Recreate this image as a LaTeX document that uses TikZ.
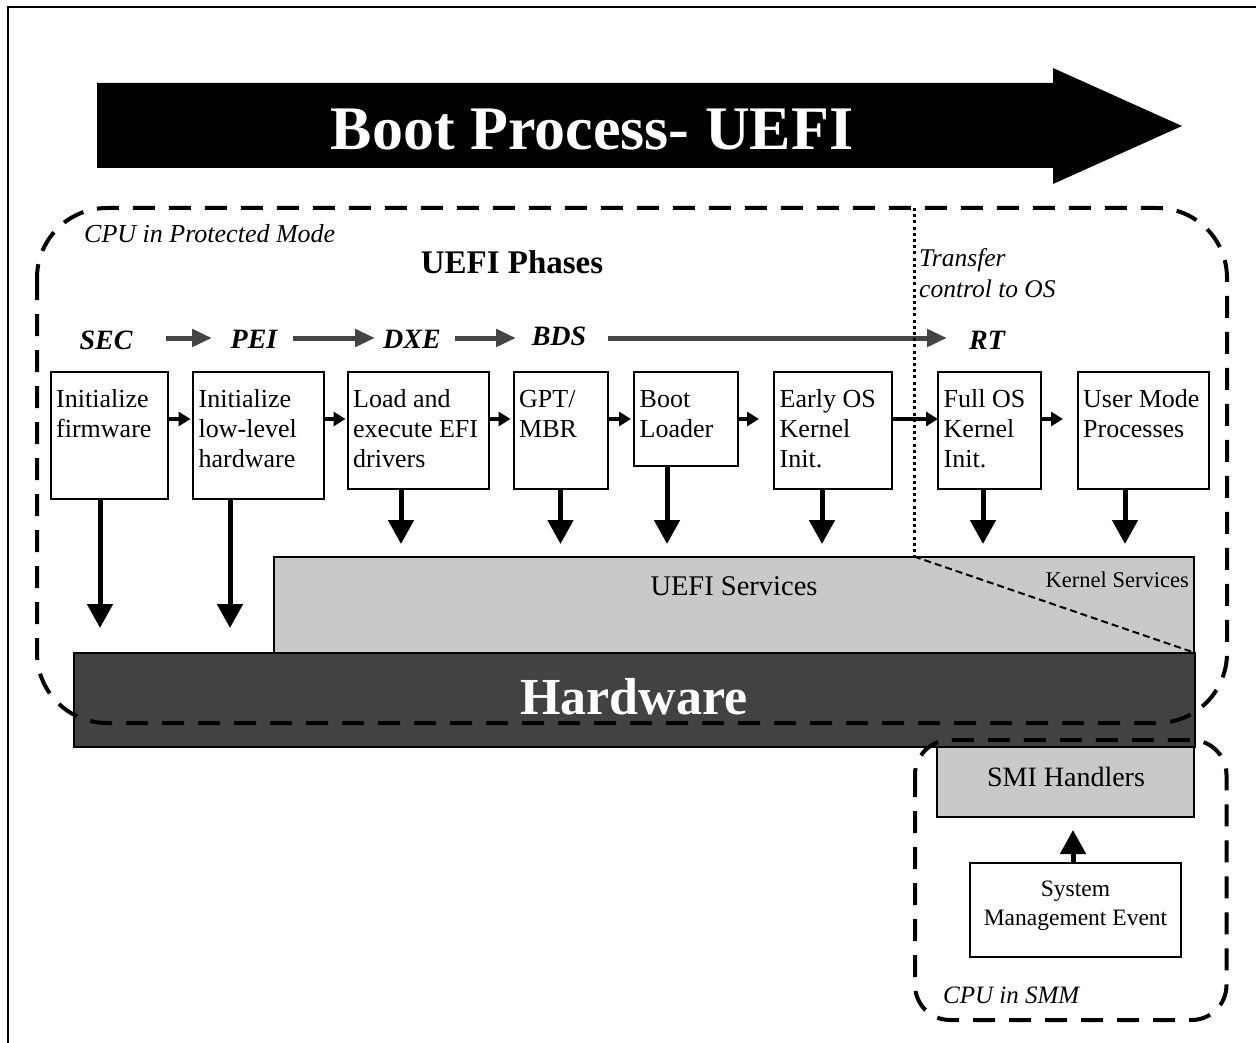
\documentclass[tikz,border=0pt]{standalone}
\usepackage{fontspec}
\setmainfont{Liberation Serif}
\usetikzlibrary{arrows.meta}
\definecolor{hwgray}{RGB}{66,66,66}
\definecolor{svgray}{RGB}{201,201,201}
\definecolor{phgray}{RGB}{68,68,68}
\newcommand{\myfs}[2]{\fontsize{#1}{#2}\selectfont}
\begin{document}
\begin{tikzpicture}[x=1pt,y=-1pt,
  stepbox/.style={draw=black, line width=2pt, fill=white, inner sep=0pt, outer sep=0pt, anchor=north west},
  layer/.style={draw=black, line width=2pt, inner sep=0pt, outer sep=0pt, anchor=north west},
  boxtext/.style={inner sep=0pt, anchor=base west, font=\myfs{26}{30}},
  downarr/.style={line width=5pt, -{Triangle[length=24pt,width=25pt]}},
  smallarr/.style={line width=4pt, -{Triangle[length=12pt,width=14pt]}},
  grayarr/.style={draw=phgray, line width=5pt, -{Triangle[length=20pt,width=17pt]}},
  phase/.style={inner sep=0pt, anchor=base, font=\myfs{28}{30}\bfseries\itshape},
  regionline/.style={line width=4pt, dash pattern=on 22pt off 14pt},
  plain/.style={inner sep=0pt},
]
\useasboundingbox (0,0) rectangle (1256,1043);
% frame
\draw[line width=2.5pt] (8,1043) -- (8,7) -- (1256,7);

% title arrow
\fill[black] (97,83) -- (1053,83) -- (1053,68) -- (1182,126) -- (1053,184) -- (1053,168) -- (97,168) -- cycle;
\node[plain, anchor=base, text=white, font=\myfs{62}{70}\bfseries] (title) at (592,150) {Boot Process- UEFI};

% layers
\node[layer, fill=svgray, minimum width=920pt, minimum height=96pt] (svc) at (274,556.5) {};
\node[layer, fill=hwgray, minimum width=1121pt, minimum height=94pt] (hw) at (74,652.5) {};
\node[layer, fill=svgray, minimum width=257.5pt, minimum height=70pt] (smi) at (936.5,747) {};
\node[stepbox, minimum width=211pt, minimum height=94pt] (sme) at (970,863) {};

% step boxes
\node[stepbox, minimum width=117.5pt, minimum height=126.5pt] (b1) at (50.5,372) {};
\node[stepbox, minimum width=130.5pt, minimum height=126.5pt] (b2) at (193,372) {};
\node[stepbox, minimum width=141pt, minimum height=117pt] (b3) at (347.5,372) {};
\node[stepbox, minimum width=94pt, minimum height=117pt] (b4) at (513.5,372) {};
\node[stepbox, minimum width=103.5pt, minimum height=93.5pt] (b5) at (634,372) {};
\node[stepbox, minimum width=117.5pt, minimum height=117pt] (b6) at (774,372) {};
\node[stepbox, minimum width=102.5pt, minimum height=117pt] (b7) at (938,372) {};
\node[stepbox, minimum width=131.5pt, minimum height=117pt] (b8) at (1077.5,372) {};

\node[boxtext] (t1) at (56,407) {\parbox[t]{140pt}{Initialize\\firmware}};
\node[boxtext] (t2) at (198.5,407) {\parbox[t]{140pt}{Initialize\\low-level\\hardware}};
\node[boxtext] (t3) at (353,407) {\parbox[t]{140pt}{Load and\\execute EFI\\drivers}};
\node[boxtext] (t4) at (519,407) {\parbox[t]{140pt}{GPT/\\MBR}};
\node[boxtext] (t5) at (639.5,407) {\parbox[t]{140pt}{Boot\\Loader}};
\node[boxtext] (t6) at (779.5,407) {\parbox[t]{140pt}{Early OS\\Kernel\\Init.}};
\node[boxtext] (t7) at (943.5,407) {\parbox[t]{140pt}{Full OS\\Kernel\\Init.}};
\node[boxtext] (t8) at (1083,407) {\parbox[t]{140pt}{User Mode\\Processes}};

% small horizontal arrows
\coordinate (r1) at (190.5,419);
\coordinate (r2) at (345.5,419);
\coordinate (r3) at (510.5,419);
\coordinate (r4) at (631,419);
\coordinate (r5) at (759,419);
\coordinate (r7) at (1063,419);
\draw[smallarr] (b1.east |- r1) -- (r1);
\draw[smallarr] (b2.east |- r2) -- (r2);
\draw[smallarr] (b3.east |- r3) -- (r3);
\draw[smallarr] (b4.east |- r4) -- (r4);
\draw[smallarr] (b5.east |- r5) -- (r5);
\draw[smallarr] (b6.east |- r1) -- (b7.west |- r1);
\draw[smallarr] (b7.east |- r7) -- (r7);

% down arrows
\coordinate (d1) at (100,628);
\coordinate (d2) at (230,628);
\coordinate (d3) at (401,544);
\coordinate (d4) at (560.5,544);
\coordinate (d5) at (667,544);
\coordinate (d6) at (822,544);
\coordinate (d7) at (983,544);
\coordinate (d8) at (1125,544);
\draw[downarr] (b1.south -| d1) -- (d1);
\draw[downarr] (b2.south -| d2) -- (d2);
\draw[downarr] (b3.south -| d3) -- (d3);
\draw[downarr] (b4.south -| d4) -- (d4);
\draw[downarr] (b5.south -| d5) -- (d5);
\draw[downarr] (b6.south -| d6) -- (d6);
\draw[downarr] (b7.south -| d7) -- (d7);
\draw[downarr] (b8.south -| d8) -- (d8);

% SME -> SMI
\coordinate (u1) at (1073,830);
\draw[downarr] (sme.north -| u1) -- (u1);

% phase labels and arrows
\node[phase] (sec) at (106,349) {SEC};
\node[phase] (pei) at (254,348) {PEI};
\node[phase] (dxe) at (412,348) {DXE};
\node[phase] (bds) at (559,345) {BDS};
\node[phase] (rt) at (987,349) {RT};
\coordinate (g1a) at (166,338); \coordinate (g1b) at (212,338);
\coordinate (g2a) at (293,338); \coordinate (g2b) at (375,338);
\coordinate (g3a) at (455,338); \coordinate (g3b) at (516,338);
\coordinate (g4a) at (608,338); \coordinate (g4b) at (947,338);
\draw[grayarr] (g1a) -- (g1b);
\draw[grayarr] (g2a) -- (g2b);
\draw[grayarr] (g3a) -- (g3b);
\draw[grayarr] (g4a) -- (g4b);

% region outlines
\draw[regionline, rounded corners=70pt] (37,208) rectangle (1227,723);
\draw[regionline, rounded corners=35pt] (915,740) rectangle (1226.5,1020);
\draw[line width=3pt, dash pattern=on 3pt off 3.2pt] (914,208) -- (914,556.5);
\draw[line width=2pt, dash pattern=on 7pt off 4pt] (svc.north -| 914,0) -- (svc.south east);

% texts
\node[plain, anchor=base west, font=\myfs{26}{30}\itshape] (cpupm) at (84,243) {CPU in Protected Mode};
\node[plain, anchor=base, font=\myfs{33}{36}\bfseries] (phases) at (512,273) {UEFI Phases};
\node[plain, anchor=base west, font=\myfs{25.5}{30}\itshape] (transfer) at (919,267) {\parbox[t]{200pt}{Transfer\\control to OS}};
\node[plain, anchor=base, font=\myfs{28.5}{30}] (svct) at (734,595) {UEFI Services};
\node[plain, anchor=base east, font=\myfs{22.5}{26}] (kst) at (1189,587) {Kernel Services};
\node[plain, anchor=base, text=white, font=\myfs{52}{56}\bfseries] (hwt) at (634,714) {Hardware};
\node[plain, anchor=base, font=\myfs{28}{30}] (smit) at (1066,786) {SMI Handlers};
\node[plain, anchor=base, font=\myfs{23.5}{29}] (smet) at (1075.5,896) {\parbox[t]{220pt}{\centering System\\Management Event}};
\node[plain, anchor=base west, font=\myfs{25}{30}\itshape] (smm) at (943,1003) {CPU in SMM};
\end{tikzpicture}
\end{document}
